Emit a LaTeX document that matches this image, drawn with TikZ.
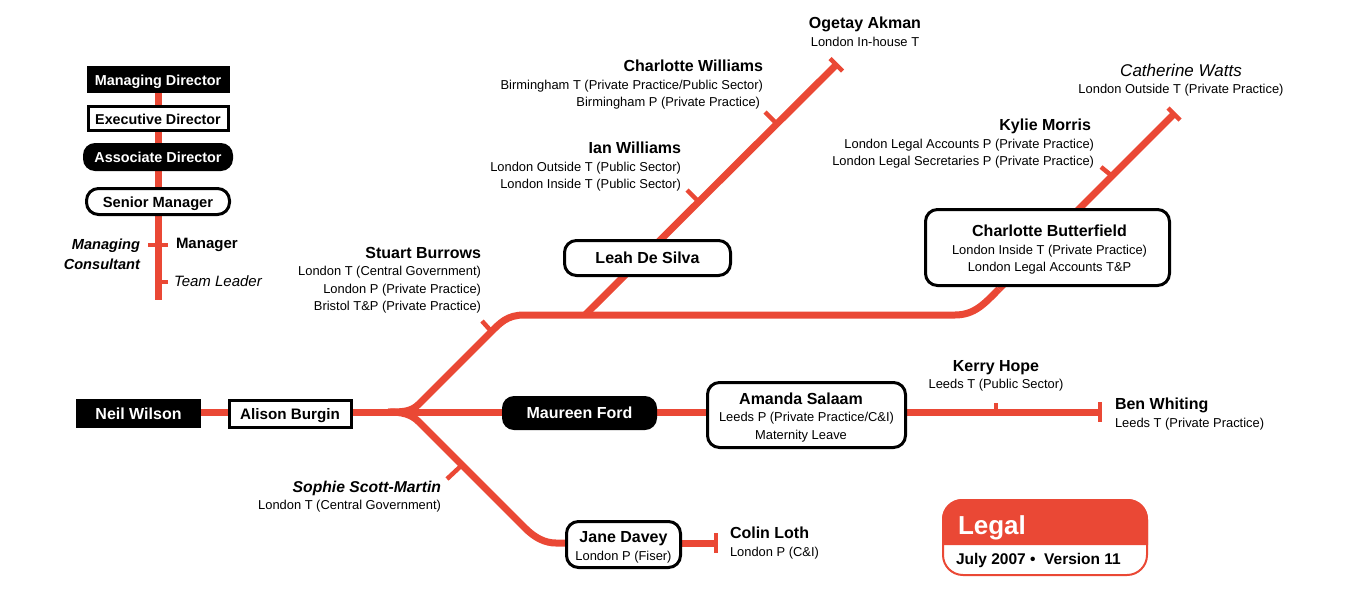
\documentclass[tikz,border=0pt]{standalone}
\usepackage{fontspec}
\usetikzlibrary{backgrounds}
\setmainfont{Liberation Sans}
\definecolor{linered}{HTML}{EA4835}
\newcommand{\who}[1]{{\fontsize{16}{19}\selectfont\bfseries #1}}
\newcommand{\whoit}[1]{{\fontsize{15.7}{19}\selectfont\bfseries\itshape #1}}
\newcommand{\boxwho}[1]{{\fontsize{16}{19}\selectfont\bfseries\rule{0pt}{16.5pt}#1}}
\tikzset{
	every node/.style={inner sep=0pt, outer sep=0pt, font=\fontsize{12.9}{17.5}\selectfont, align=center},
	line/.style={line width=7pt, draw=linered},
	tick/.style={line width=4.5pt, draw=linered},
	title/.style={font=\fontsize{#1}{19}\selectfont\bfseries, text height=11pt, text depth=0pt},
	blackbox/.style={fill=black, text=white, title=#1},
	blackbox/.default=16,
	whitebox/.style={fill=white, draw=black, line width=3pt, title=#1},
	whitebox/.default=16,
	infobox/.style={fill=white, draw=black, line width=3pt},
	roundbox/.style={rounded corners=12pt},
	lbl/.style={anchor=north east, align=right},
	lbr/.style={anchor=north west, align=left}
}
\begin{document}
\begin{tikzpicture}[x=1pt, y=-1pt]

	\useasboundingbox (0, 0) rectangle (1351, 608);

	% rail points
	\coordinate (fork) at (388, 412);
	\coordinate (legendend) at (158, 300);
	\coordinate (legendml) at (148, 245);
	\coordinate (legendmr) at (168, 245);
	\coordinate (legendt) at (158, 282);
	\coordinate (legendtr) at (168, 282);
	\coordinate (leahfoot) at (585, 315);
	\coordinate (ogetayend) at (836, 65);
	\coordinate (ogetayl) at (830, 58.5);
	\coordinate (ogetayr) at (842.5, 71);
	\coordinate (cwtick) at (777, 124);
	\coordinate (cwtickend) at (765, 112);
	\coordinate (iwtick) at (699, 202);
	\coordinate (iwtickend) at (687, 190);
	\coordinate (butterfoot) at (999, 289);
	\coordinate (wattsend) at (1174, 114);
	\coordinate (wattsl) at (1168, 108);
	\coordinate (wattsr) at (1180, 120);
	\coordinate (kmtick) at (1112, 176);
	\coordinate (kmtickend) at (1101, 167);
	\coordinate (sbtick) at (491, 331);
	\coordinate (sbtickend) at (482, 321);
	\coordinate (sstick) at (462, 465);
	\coordinate (sstickend) at (447, 479);
	\coordinate (khtick) at (996, 412);
	\coordinate (khtickend) at (996, 403);
	\coordinate (benend) at (1100, 412);
	\coordinate (bena) at (1100, 402);
	\coordinate (benb) at (1100, 422);
	\coordinate (colinend) at (716, 543);
	\coordinate (colina) at (716, 533);
	\coordinate (colinb) at (716, 553);

	% boxes
	\node (md) [blackbox=14.4, minimum width=143pt, minimum height=27pt] at (158, 79.5) {Managing Director};
	\node (ed) [whitebox=14.3, minimum width=140pt, minimum height=24pt] at (158, 118.5) {Executive Director};
	\node (ad) [blackbox=14.4, roundbox, minimum width=150pt, minimum height=28pt] at (158, 157) {Associate Director};
	\node (sm) [whitebox=14.7, roundbox, minimum width=143pt, minimum height=26pt] at (158, 201.5) {Senior Manager};

	\node (neil) [blackbox, minimum width=125pt, minimum height=29pt] at (138.5, 413.5) {Neil Wilson};
	\node (alison) [whitebox=15.2, minimum width=122pt, minimum height=27pt] at (290, 414) {Alison Burgin};
	\node (maureen) [blackbox, roundbox, minimum width=155pt, minimum height=34pt] at (579.5, 413) {Maureen Ford};
	\node (amanda) [infobox, roundbox, minimum width=198pt, minimum height=65pt] at (806.5, 415) {\boxwho{Amanda Salaam}\hspace*{11pt}\\Leeds P (Private Practice/C\&I)\hspace*{11pt}\\Maternity Leave\hspace*{11pt}};
	\node (jane) [infobox, roundbox, minimum width=114pt, minimum height=46pt] at (623.5, 544.5) {\boxwho{Jane Davey}\\London P (Fiser)};
	\node (leah) [whitebox, roundbox, minimum width=166pt, minimum height=35pt] at (647.5, 258) {Leah De Silva};
	\node (butter) [infobox, roundbox, minimum width=244pt, minimum height=76pt] at (1047.5, 247.5) {\hspace*{4pt}\boxwho{Charlotte Butterfield}\\\hspace*{4pt}London Inside T (Private Practice)\\\hspace*{4pt}London Legal Accounts T\&P};

	% labels
	\node (ogetay) [anchor=north] at (865, 17) {\who{Ogetay Akman}\\London In-house T};
	\node (cwilliams) [lbl] at (763, 60) {\who{Charlotte Williams}\\Birmingham T (Private Practice/Public Sector)\\Birmingham P (Private Practice)\hspace*{3pt}};
	\node (iwilliams) [lbl] at (681, 142) {\who{Ian Williams}\\London Outside T (Public Sector)\\London Inside T (Public Sector)};
	\node (watts) [anchor=north] at (1181, 64) {{\fontsize{17}{19}\selectfont\itshape Catherine Watts}\\London Outside T (Private Practice)};
	\node (kylie) [lbl] at (1094, 119) {\who{Kylie Morris}\hspace*{3pt}\\London Legal Accounts P (Private Practice)\hspace*{3pt}\\London Legal Secretaries P (Private Practice)};
	\node (stuart) [lbl] at (481, 247) {\who{Stuart Burrows}\\London T (Central Government)\\London P (Private Practice)\\Bristol T\&P (Private Practice)};
	\node (sophie) [lbl] at (441, 481) {\whoit{Sophie Scott-Martin}\\London T (Central Government)};
	\node (kerry) [anchor=north] at (996, 360) {\who{Kerry Hope}\\Leeds T (Public Sector)};
	\node (ben) [lbr] at (1115, 398) {\who{Ben Whiting}\\Leeds T (Private Practice)};
	\node (colin) [lbr] at (730, 527) {\who{Colin Loth}\\London P (C\&I)};
	\node (mgr) [anchor=west, font=\fontsize{15}{18}\selectfont\bfseries] at (176, 245) {Manager};
	\node (tl) [anchor=west, font=\fontsize{15}{18}\selectfont\itshape] at (174, 281) {Team Leader};
	\node (mc) [lbl, font=\fontsize{14.6}{20}\selectfont\bfseries\itshape] at (140, 239) {Managing\\Consultant};

	% key
	\fill[linered] (942, 545) {[rounded corners=20pt] -- (942, 499) -- (1148, 499)} -- (1148, 545) -- cycle;
	\draw[linered, line width=2pt, rounded corners=20pt] (943, 500) rectangle (1147, 575);
	\node (legal) [anchor=west, text=white, font=\fontsize{26}{30}\selectfont\bfseries] at (958, 528) {Legal};
	\node (version) [anchor=west, font=\fontsize{15.5}{18}\selectfont\bfseries] at (956, 560) {July 2007 \textbullet{}\ \ Version 11};

	\begin{pgfonlayer}{background}
	% legend line
	\path[line]
	(md) edge (ed)
	(ed) edge (ad)
	(ad) edge (sm)
	(sm) edge (legendend);
	\path[tick]
	(legendml) edge (legendmr)
	(legendt) edge (legendtr);

	% rail lines
	\path[line]
	(neil |- fork) edge (alison |- fork)
	(alison |- fork) edge (fork)
	(fork) edge (maureen |- fork)
	(maureen |- fork) edge (amanda |- fork)
	(amanda |- fork) edge (benend)
	(jane |- colinend) edge (colinend)
	(leahfoot) edge (ogetayend)
	(butterfoot) edge (wattsend);
	\draw[line] (fork) .. controls (402, 412) and (411, 412) .. (419, 404) -- (490, 333) .. controls (500, 323) and (507, 315) .. (524, 315) -- (955, 315) .. controls (975, 315) and (985, 303) .. (butterfoot);
	\draw[line] (fork) .. controls (402, 412) and (411, 414) .. (419, 422) -- (525, 528) .. controls (535, 538) and (545, 543) .. (556, 543) -- (jane |- colinend);
	\path[tick]
	(ogetayl) edge (ogetayr)
	(cwtick) edge (cwtickend)
	(iwtick) edge (iwtickend)
	(wattsl) edge (wattsr)
	(kmtick) edge (kmtickend)
	(sbtick) edge (sbtickend)
	(sstick) edge (sstickend)
	(khtick) edge (khtickend)
	(bena) edge (benb)
	(colina) edge (colinb);
	\end{pgfonlayer}

\end{tikzpicture}
\end{document}
